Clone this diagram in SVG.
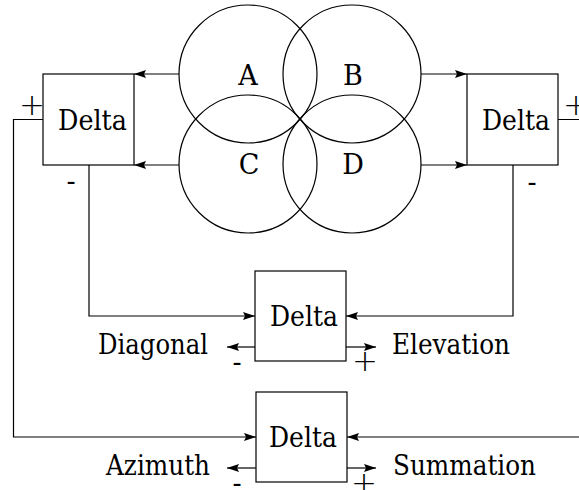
<svg xmlns="http://www.w3.org/2000/svg" width="579" height="490" viewBox="0 0 579 490">
<style>
.ln{fill:none;stroke:#000;stroke-width:1.2}
.box{fill:#fff;stroke:#000;stroke-width:1.2}
.t{font-family:"DejaVu Serif",serif;font-size:27px;fill:#000}
.pl{font-family:"DejaVu Sans",sans-serif;font-weight:200;font-size:31px}
.m{text-anchor:middle}
</style>
<defs>
<marker id="ah" markerUnits="userSpaceOnUse" markerWidth="14" markerHeight="10" refX="12" refY="4" orient="auto">
<path d="M0,0 L12,4 L0,8 L2,4 z" fill="#000"/>
</marker>
</defs>
<g id="circles">
<circle class="ln" cx="248" cy="74" r="69"/>
<circle class="ln" cx="352" cy="74" r="69"/>
<circle class="ln" cx="248" cy="164" r="69"/>
<circle class="ln" cx="352" cy="164" r="69"/>
<text class="t m" x="248" y="85">A</text>
<text class="t m" x="353" y="85">B</text>
<text class="t m" x="249" y="174">C</text>
<text class="t m" x="353" y="174">D</text>
</g>
<g id="connectors">
<path class="ln" d="M179,74 H134" marker-end="url(#ah)"/>
<path class="ln" d="M179,165 H134" marker-end="url(#ah)"/>
<path class="ln" d="M421,74 H467" marker-end="url(#ah)"/>
<path class="ln" d="M421,165 H467" marker-end="url(#ah)"/>
<path class="ln" d="M89,165 V316 H255" marker-end="url(#ah)"/>
<path class="ln" d="M513,165 V316 H346" marker-end="url(#ah)"/>
<path class="ln" d="M43,119.5 H13.5 V437 H256" marker-end="url(#ah)"/>
<path class="ln" d="M558,119.5 H595 V437 H347" marker-end="url(#ah)"/>
<path class="ln" d="M255,347 H227" marker-end="url(#ah)"/>
<path class="ln" d="M346,347 H376" marker-end="url(#ah)"/>
<path class="ln" d="M256,468 H227" marker-end="url(#ah)"/>
<path class="ln" d="M347,468 H376" marker-end="url(#ah)"/>
</g>
<g id="delta-left">
<rect class="box" x="43" y="74" width="91" height="91"/>
<text class="t" x="58" y="130" textLength="69" lengthAdjust="spacingAndGlyphs">Delta</text>
<text class="t pl m" x="32" y="115">+</text>
<text class="t m" x="71" y="190">-</text>
</g>
<g id="delta-right">
<rect class="box" x="467" y="74" width="91" height="91"/>
<text class="t" x="482" y="130" textLength="68" lengthAdjust="spacingAndGlyphs">Delta</text>
<text class="t pl m" x="576" y="115">+</text>
<text class="t m" x="532" y="191">-</text>
</g>
<g id="delta-middle">
<rect class="box" x="255" y="271" width="91" height="90"/>
<text class="t" x="270" y="326" textLength="68" lengthAdjust="spacingAndGlyphs">Delta</text>
<text class="t m" x="237" y="371">-</text>
<text class="t pl m" x="365" y="371">+</text>
</g>
<g id="delta-bottom">
<rect class="box" x="256" y="392" width="91" height="90"/>
<text class="t" x="269" y="447" textLength="68" lengthAdjust="spacingAndGlyphs">Delta</text>
<text class="t m" x="237" y="492">-</text>
<text class="t pl m" x="364" y="493">+</text>
</g>
<g id="labels">
<text class="t" x="98" y="354" textLength="110" lengthAdjust="spacingAndGlyphs">Diagonal</text>
<text class="t" x="392" y="354" textLength="118" lengthAdjust="spacingAndGlyphs">Elevation</text>
<text class="t" x="106" y="475" textLength="104" lengthAdjust="spacingAndGlyphs">Azimuth</text>
<text class="t" x="393" y="475" textLength="143" lengthAdjust="spacingAndGlyphs">Summation</text>
</g>
</svg>
